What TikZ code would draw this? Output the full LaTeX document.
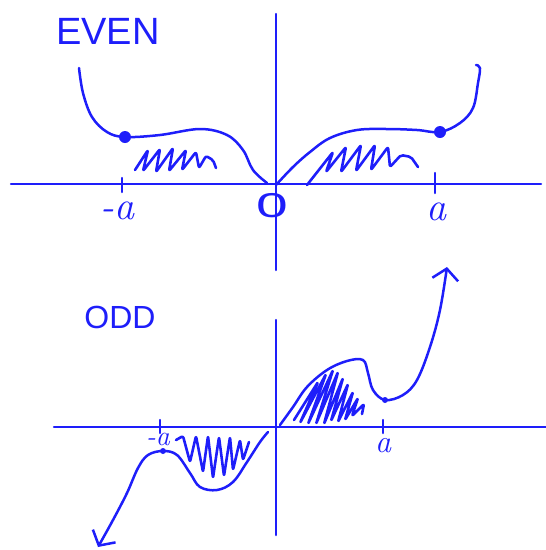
\documentclass[tikz,border=0pt]{standalone}
\usepackage{fontspec}
\usepackage{graphicx}
\newfontfamily\handfont{Liberation Sans}
\usetikzlibrary{arrows.meta}
\definecolor{PenBlue}{HTML}{1E1EFA}

\begin{document}
\begin{tikzpicture}[x=1pt,y=-1pt,
    pen/.style={PenBlue,line width=2.5pt,line cap=round,line join=round},
    scribble/.style={pen,line width=2.6pt,rounded corners=2pt},
    tip/.style={-{Straight Barb[length=11pt,width=26pt]}},
    word/.style={text=PenBlue,inner sep=0pt,font=\handfont\fontsize{#1}{#1}\selectfont},
    sign/.style={text=PenBlue,inner sep=0pt,font=\fontsize{#1}{#1}\selectfont\itshape}]
  \useasboundingbox (0,0) rectangle (546,550);
  % even
  \draw[pen] (11,184) -- (541,184);
  \draw[pen] (276,14) -- (276,270);
  \draw[pen] (122,178) -- (122,192);
  \draw[pen] (435,173) -- (435,193);
  \draw[pen] plot[smooth,tension=0.6] coordinates {(79,68) (83,93) (92,117) (107,132) (125,137) (160,135)
    (200,129) (227,135) (243,150) (253,170) (267,183)};
  \draw[pen] plot[smooth,tension=0.6] coordinates {(276,185) (293,167) (310,152) (330,138) (357,130)
    (387,129) (417,130) (440,132) (460,123) (473,108) (478,83) (480,68) (476,65)};
  \draw[scribble] (135,170) -- (148,150) -- (143,171) -- (160,149) -- (156,172) -- (173,148) -- (169,171)
    -- (186,150) -- (182,170) -- (196,152) -- (199,168) -- (206,156) -- (213,160) -- (216,168);
  \draw[scribble] (307,185) -- (333,152) -- (326,172) -- (346,147) -- (341,172) -- (361,145) -- (356,171)
    -- (375,145) -- (371,170) -- (388,147) -- (390,167) -- (401,155) -- (411,157) -- (418,167);
  \fill[PenBlue] (125,137) circle (6pt);
  \fill[PenBlue] (440,132) circle (6pt);
  \node[word=38] (even) at (108,31) {EVEN};
  \node[sign=40] (minusa) at (117,211) {-a};
  \node[word=30] (zero) at (272,206) {\scalebox{1.9}[1.15]{0}};
  \node[sign=40] (plusa) at (436,212) {a};
  % odd
  \draw[pen] (54,427) -- (546,427);
  \draw[pen] (276,320) -- (276,535);
  \draw[pen] (160,420) -- (160,433);
  \draw[pen] (383,420) -- (383,433);
  \draw[pen,tip] plot[smooth,tension=0.6] coordinates {(268,432) (260,442) (247,462) (233,482) (217,490)
    (200,487) (190,473) (177,455) (163,451) (148,455) (138,468) (127,493) (113,520) (98,547)};
  \draw[pen,tip] plot[smooth,tension=0.6] coordinates {(280,425) (293,407) (307,387) (327,370) (347,361)
    (363,360) (368,373) (373,390) (385,400) (403,395) (417,380) (430,347) (440,310) (447,267)};
  \draw[scribble] (176,440) -- (183,436) -- (190,462) -- (196,436) -- (203,472) -- (208,436) -- (213,478)
    -- (219,437) -- (224,476) -- (230,437) -- (233,470) -- (240,440) -- (243,460) -- (249,442);
  \draw[scribble] (294,420) -- (318,382) -- (300,423) -- (326,374) -- (308,424) -- (333,370) -- (316,424)
    -- (338,372) -- (324,424) -- (343,378) -- (331,421) -- (348,384) -- (338,422) -- (353,392)
    -- (345,420) -- (358,398) -- (352,416) -- (364,404) -- (362,414);
  \fill[PenBlue] (163,451) circle (3pt);
  \fill[PenBlue] (385,400) circle (3pt);
  \node[word=32] (odd) at (120,317) {ODD};
  \node[sign=28] (minusb) at (158,439) {-a};
  \node[sign=32] (plusb) at (383,446) {a};
\end{tikzpicture}
\end{document}
